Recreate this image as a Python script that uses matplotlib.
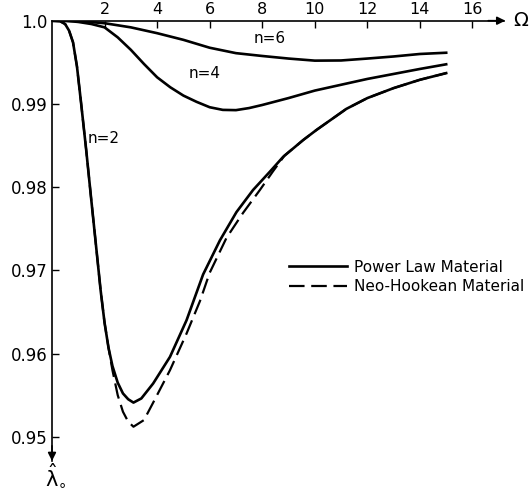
import matplotlib
matplotlib.use("Agg")
from matplotlib import pyplot as plt

plt.rcParams['font.family'] = ['DejaVu Sans']

# Omega vs lambda_0
omega_n6 = [0, 1.0, 2.0, 3.0, 4.0, 5.0, 6.0, 7.0, 8.0, 9.0, 10.0, 11.0, 12.0, 13.0, 14.0, 15.0]
lam_n6 = [1.0, 0.99995, 0.9997, 0.9992, 0.9985, 0.9977, 0.99675, 0.9961, 0.99576, 0.99545,
          0.9952, 0.99522, 0.99545, 0.9957, 0.996, 0.99615]

omega_n4 = [0, 0.5, 1.0, 1.5, 2.0, 2.5, 3.0, 3.5, 4.0, 4.5, 5.0, 5.5, 6.0, 6.5, 7.0, 7.5,
            8.0, 9.0, 10.0, 11.0, 12.0, 13.0, 14.0, 15.0]
lam_n4 = [1.0, 1.0, 0.99985, 0.9996, 0.9992, 0.998, 0.9965, 0.9948, 0.9932, 0.992, 0.991,
          0.99025, 0.9896, 0.98928, 0.98925, 0.9895, 0.98987, 0.9907, 0.9916, 0.9923,
          0.993, 0.9936, 0.9942, 0.99476]

omega_n2 = [0, 0.3, 0.5, 0.65, 0.8, 0.95, 1.1, 1.3, 1.5, 1.7, 1.85, 2.0, 2.15, 2.3, 2.5,
            2.7, 2.9, 3.1, 3.4, 3.85, 4.49, 5.12, 5.75, 6.39, 7.02, 7.65, 8.29, 8.8,
            9.56, 10.06, 11.2, 12.0, 13.0, 14.0, 15.0]
lam_n2 = [1.0, 0.99995, 0.9996, 0.9988, 0.9974, 0.9945, 0.9903, 0.9845, 0.9783, 0.9722,
          0.9676, 0.9637, 0.9607, 0.9585, 0.9565, 0.9552, 0.9545, 0.9541, 0.9546, 0.9564,
          0.9596, 0.964, 0.9695, 0.9736, 0.977, 0.97965, 0.98185, 0.98365, 0.98566,
          0.98686, 0.9894, 0.9907, 0.9919, 0.9929, 0.9937]

# neo-Hookean, n=2
omega_neo = [0, 0.3, 0.5, 0.65, 0.8, 0.95, 1.1, 1.3, 1.5, 1.7, 1.85, 2.0, 2.15, 2.3, 2.5,
             2.7, 2.9, 3.1, 3.5, 3.85, 4.49, 5.12, 5.63, 6.0, 6.64, 7.27, 7.91, 8.41, 8.85,
             9.56, 10.06, 11.2, 12.0, 13.0, 14.0, 15.0]
lam_neo = [1.0, 0.99995, 0.9996, 0.9988, 0.9974, 0.9945, 0.9903, 0.9845, 0.9783, 0.9722,
           0.9676, 0.9637, 0.9607, 0.958, 0.955, 0.953, 0.9518, 0.9512, 0.952, 0.9541,
           0.958, 0.9624, 0.9663, 0.9697, 0.9739, 0.9769, 0.97965, 0.9819, 0.9838,
           0.98566, 0.98686, 0.9894, 0.9907, 0.9919, 0.9929, 0.9937]

x_ticks = [2, 4, 6, 8, 10, 12, 14, 16]
y_ticks = [1.0, 0.99, 0.98, 0.97, 0.96, 0.95]
y_labels = ['1.0', '0.99', '0.98', '0.97', '0.96', '0.95']

fig = plt.figure(figsize=(5.31, 4.92), dpi=100)
ax = fig.add_axes([52 / 531, 1 - 461 / 492, 452 / 531, 440.3 / 492])

ax.plot(omega_n6, lam_n6, color='black', lw=1.9, label='Power Law Material')
ax.plot(omega_n4, lam_n4, color='black', lw=1.9)
ax.plot(omega_n2, lam_n2, color='black', lw=1.9)
ax.plot(omega_neo, lam_neo, color='black', lw=1.6, dashes=(7, 3),
        label='Neo-Hookean Material')

ax.set_xlim(0, 17.2)
ax.set_ylim(0.94708, 1.0)

# axes drawn like the original: x on top, arrows at the ends
ax.spines['bottom'].set_visible(False)
ax.spines['right'].set_visible(False)
ax.spines['top'].set_linewidth(1.2)
ax.spines['left'].set_linewidth(1.2)
ax.xaxis.tick_top()
ax.set_xticks(x_ticks)
ax.set_yticks(y_ticks)
ax.set_yticklabels(y_labels)
ax.tick_params(axis='x', direction='in', length=5, width=1, pad=3, labelsize=11.5)
ax.tick_params(axis='y', direction='in', length=5, width=1, pad=3, labelsize=12)

ax.annotate('', xy=(17.25, 1.0), xytext=(16.6, 1.0), annotation_clip=False,
            arrowprops=dict(arrowstyle='-|>', color='black', lw=1.2,
                            mutation_scale=12, shrinkA=0, shrinkB=0))
ax.annotate('', xy=(0, 0.94708), xytext=(0, 0.9489), annotation_clip=False,
            arrowprops=dict(arrowstyle='-|>', color='black', lw=1.2,
                            mutation_scale=12, shrinkA=0, shrinkB=0))
ax.text(17.55, 1.0, 'Ω', fontsize=14, va='center', ha='left', clip_on=False)
ax.text(-0.25, 0.94365, r'$\hat{\mathrm{\lambda}}_{\circ}$', fontsize=15,
        va='bottom', ha='left', clip_on=False)

ax.text(8.3, 0.99792, 'n=6', fontsize=11, ha='center', va='center')
ax.text(5.8, 0.99371, 'n=4', fontsize=11, ha='center', va='center')
ax.text(1.95, 0.9859, 'n=2', fontsize=11, ha='center', va='center')

ax.legend(loc='upper left', bbox_to_anchor=(281 / 531, 1 - 252 / 492),
          bbox_transform=fig.transFigure, frameon=False, fontsize=11,
          handlelength=3.8, handletextpad=0.5, labelspacing=0.3, borderpad=0)

plt.savefig('out.png', dpi=100)
